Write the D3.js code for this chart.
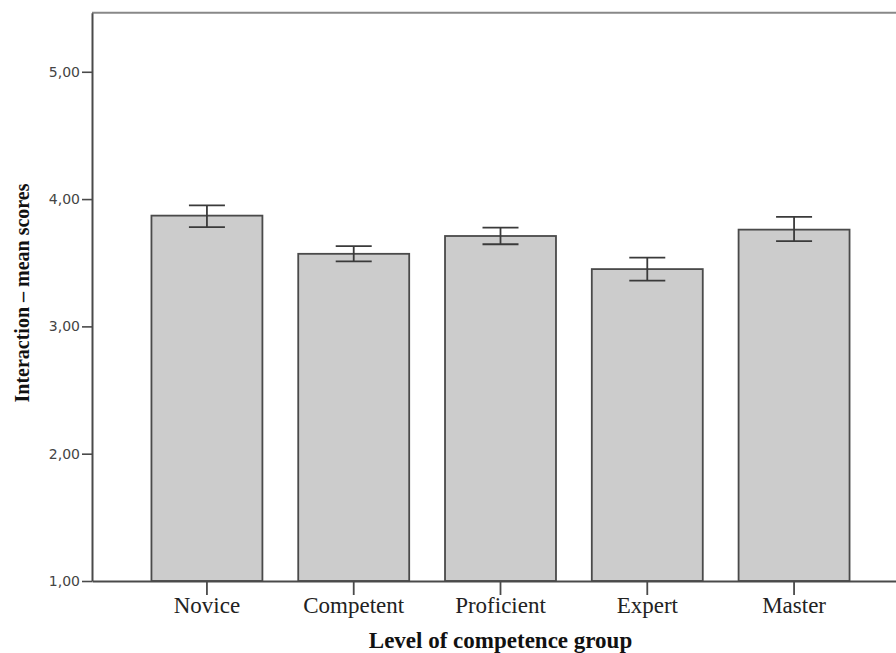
<!DOCTYPE html>
<html><head><meta charset="utf-8">
<script src="https://cdn.jsdelivr.net/npm/d3@7"></script>
<style>body{margin:0;background:#fff}svg{display:block}</style>
</head><body>
<script>
const categories = ["Novice","Competent","Proficient","Expert","Master"];
const means = [3.87, 3.57, 3.71, 3.45, 3.76];
const errLow = [3.78, 3.51, 3.645, 3.36, 3.67];
const errHigh = [3.95, 3.63, 3.775, 3.54, 3.86];
const yTicks = [1, 2, 3, 4, 5];
const yTickLabels = ["1,00","2,00","3,00","4,00","5,00"];
const yTitle = "Interaction – mean scores";
const xTitle = "Level of competence group";

(function(){
const W = 896, H = 653;
const mLeft = 92, mRight = 909, mTop = 12.7, mBottom = 581;

const svg = d3.select("body").append("svg").attr("width", W).attr("height", H);

const x = d3.scaleBand().domain(categories).range([mLeft, mRight]).paddingInner(0.244).paddingOuter(0.405);
const y = d3.scaleLinear().domain([1, 5.464]).range([mBottom, mTop]);

// top border
svg.append("line").attr("x1", mLeft).attr("x2", W).attr("y1", mTop).attr("y2", mTop)
  .attr("stroke", "#888").attr("stroke-width", 2);

// bars
svg.append("g").selectAll("rect").data(categories).join("rect")
  .attr("x", d => x(d)).attr("width", x.bandwidth())
  .attr("y", (d, i) => y(means[i])).attr("height", (d, i) => y(1) - y(means[i]))
  .attr("fill", "#cccccc").attr("stroke", "#4a4a4a").attr("stroke-width", 1.8);

// error bars
const cap = 18;
const eg = svg.append("g").attr("stroke", "#3a3a3a").attr("stroke-width", 1.8);
categories.forEach((c, i) => {
  const cx = x(c) + x.bandwidth() / 2;
  eg.append("line").attr("x1", cx).attr("x2", cx).attr("y1", y(errLow[i])).attr("y2", y(errHigh[i]));
  eg.append("line").attr("x1", cx - cap).attr("x2", cx + cap).attr("y1", y(errLow[i])).attr("y2", y(errLow[i]));
  eg.append("line").attr("x1", cx - cap).attr("x2", cx + cap).attr("y1", y(errHigh[i])).attr("y2", y(errHigh[i]));
});

// y axis
const ya = svg.append("g").attr("transform", `translate(${mLeft},0)`)
  .call(d3.axisLeft(y).tickValues(yTicks).tickFormat((d, i) => yTickLabels[i]).tickSize(10).tickPadding(2).tickSizeOuter(0));
ya.select(".domain").attr("stroke", "#4a4a4a").attr("stroke-width", 2);
ya.selectAll(".tick line").attr("stroke", "#4a4a4a").attr("stroke-width", 1.6);
ya.selectAll(".tick text").attr("font-family", "DejaVu Sans").attr("font-size", 14).attr("fill", "#444");

// x axis
const xa = svg.append("g").attr("transform", `translate(0,${mBottom})`)
  .call(d3.axisBottom(x).tickSize(14).tickPadding(4).tickSizeOuter(0));
xa.select(".domain").attr("stroke", "#4a4a4a").attr("stroke-width", 1.8);
xa.selectAll(".tick line").attr("stroke", "#4a4a4a").attr("stroke-width", 1.8);
xa.selectAll(".tick text").attr("font-family", "Liberation Serif").attr("font-size", 23).attr("fill", "#222")
  .attr("dy", null).attr("y", 32);

// titles
svg.append("text").attr("transform", `translate(29,293) rotate(-90)`)
  .attr("text-anchor", "middle").attr("font-family", "Liberation Serif").attr("font-weight", "bold")
  .attr("font-size", 20).attr("fill", "#111").text(yTitle);
svg.append("text").attr("x", (mLeft + mRight) / 2).attr("y", 648)
  .attr("text-anchor", "middle").attr("font-family", "Liberation Serif").attr("font-weight", "bold")
  .attr("font-size", 23).attr("fill", "#111").text(xTitle);
})();
</script>
</body></html>
